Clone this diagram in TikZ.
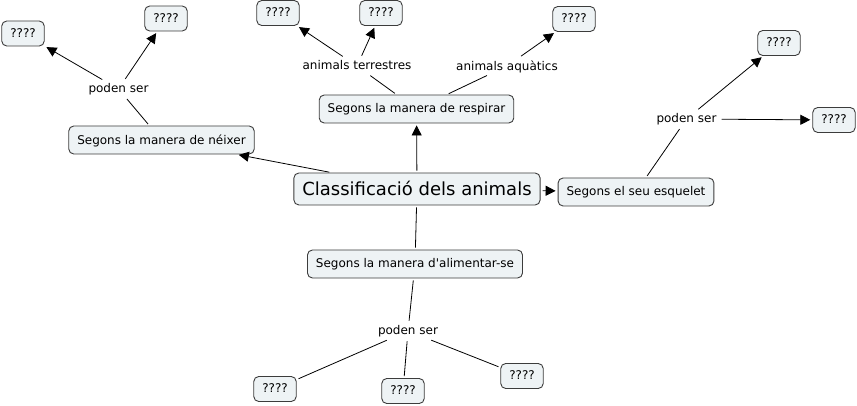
\documentclass[tikz,border=0pt]{standalone}
\usepackage{fontspec}
\setmainfont{DejaVu Sans}[Ligatures=TeXOff]
\usetikzlibrary{arrows.meta}
\definecolor{boxfill}{HTML}{EEF3F5}
\definecolor{boxline}{HTML}{3C3C3C}
\tikzset{
  concept/.style={draw=boxline, line width=0.9pt, fill=boxfill, rounded corners=5pt,
    font=\fontsize{12}{14}\selectfont, inner xsep=8.5pt, inner ysep=0pt,
    minimum height=28pt, text depth=0.25ex},
  qbox/.style={concept, minimum height=25pt},
  bigbox/.style={concept, font=\fontsize{18}{21}\selectfont, minimum height=32pt},
  linkph/.style={font=\fontsize{12}{14}\selectfont, inner sep=3pt, text depth=0.25ex},
  conn/.style={line width=0.8pt, draw=black, shorten <=2pt, shorten >=2pt},
  arr/.style={conn, -{Triangle[length=10pt,width=10pt]}},
}
\begin{document}
\begin{tikzpicture}[x=1pt,y=-1pt]
\useasboundingbox (0,0) rectangle (857,406);
% main concepts
\node[bigbox] (central) at (417,189) {Classificació dels animals};
\node[concept] (neixer) at (161.5,140) {Segons la manera de néixer};
\node[concept] (respirar) at (416.5,109) {Segons la manera de respirar};
\node[concept] (esquelet) at (636,192) {Segons el seu esquelet};
\node[concept] (alimentar) at (415,264) {Segons la manera d'alimentar-se};
% leaves
\node[qbox] (q1) at (23,33.5) {????};
\node[qbox] (q2) at (166,18.5) {????};
\node[qbox] (q3) at (278,13) {????};
\node[qbox] (q4) at (381,13) {????};
\node[qbox] (q5) at (574,19) {????};
\node[qbox] (q6) at (779,43) {????};
\node[qbox] (q7) at (834,120) {????};
\node[qbox] (q8) at (275,389) {????};
\node[qbox] (q9) at (403,391) {????};
\node[qbox] (q10) at (522,376) {????};
% linking phrases
\node[linkph] (lp1) at (118.5,89) {poden ser};
\node[linkph] (lt) at (357,66) {animals terrestres};
\node[linkph] (la) at (507,66) {animals aquàtics};
\node[linkph] (lp2) at (686.5,119) {poden ser};
\node[linkph] (lp3) at (408,331) {poden ser};
% connections
\draw[arr] (central) -- (neixer);
\draw[arr] (central) -- (respirar);
\draw[arr] (central) -- (esquelet);
\draw[conn] (central) -- (alimentar);
\draw[conn] (neixer) -- (lp1);
\draw[arr] (lp1) -- (q1);
\draw[arr] (lp1) -- (q2);
\draw[conn] (respirar) -- (lt);
\draw[arr] (lt) -- (q3);
\draw[arr] (lt) -- (q4);
\draw[conn] (respirar) -- (la);
\draw[arr] (la) -- (q5);
\draw[conn] (esquelet) -- (lp2);
\draw[arr] (lp2) -- (q6);
\draw[arr] (lp2) -- (q7);
\draw[conn] (alimentar) -- (lp3);
\draw[conn] (lp3) -- (q8);
\draw[conn] (lp3) -- (q9);
\draw[conn] (lp3) -- (q10);
\end{tikzpicture}
\end{document}
